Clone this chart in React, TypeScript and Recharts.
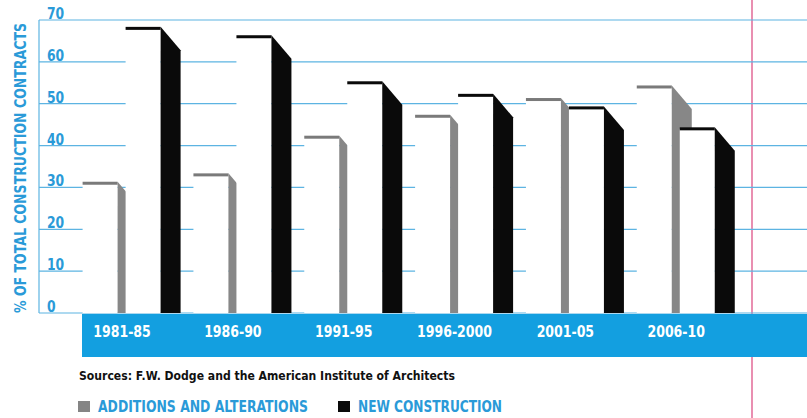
import React from 'react';
import { Bar, BarChart, CartesianGrid, XAxis, YAxis } from 'recharts';

const periods = ['1981-85', '1986-90', '1991-95', '1996-2000', '2001-05', '2006-10'];
const additions = [31, 33, 42, 47, 51, 54];
const newConstruction = [68, 66, 55, 52, 49, 44];
const yTicks = [0, 10, 20, 30, 40, 50, 60, 70];

const data = periods.map((period, i) => ({
  period,
  additions: additions[i],
  newConstruction: newConstruction[i],
}));

const BAND = '#139fe0';
const GRID = '#5db4e2';
const TEXT_BLUE = '#2a9ad8';
const FONT = "'DejaVu Sans Condensed', 'Liberation Sans Narrow', 'Roboto', sans-serif";

// white front face, thick top edge, and a bevelled side face
function slab(color: string, edge: string) {
  return (props: any) => {
    const { x, y, width, height } = props;
    const d = 20;
    const dy = 22;
    const right = x + width;
    const bottom = y + height;
    return (
      <g>
        <rect x={x} y={y} width={width} height={height} fill="#fff" />
        <polygon
          points={`${right},${y - 1.5} ${right + d},${y + dy} ${right + d},${bottom} ${right},${bottom}`}
          fill={color}
        />
        <rect x={x} y={y - 1.5} width={width} height={3} fill={edge} />
      </g>
    );
  };
}

const YTick = (props: any) => (
  <text
    transform={`translate(${props.x + 8},${props.y - 1}) scale(0.86,1)`}
    fill={TEXT_BLUE}
    fontSize={16}
    fontWeight="bold"
    fontFamily={FONT}
  >
    {props.payload.value}
  </text>
);

const XTick = (props: any) => (
  <text
    transform={`translate(${props.x},${props.y + 24}) scale(0.87,1)`}
    fill="#fff"
    fontSize={16}
    fontWeight="bold"
    fontFamily={FONT}
    textAnchor="middle"
  >
    {props.payload.value}
  </text>
);

export default function App() {
  return (
    <div style={{ position: 'absolute', left: 0, top: 0, width: 807, height: 418, background: '#fff', overflow: 'hidden' }}>
      <div style={{ position: 'absolute', left: 751, top: 0, width: 1.5, height: 418, background: '#e98fb1' }} />
      <div style={{ position: 'absolute', left: 82, top: 314, width: 725, height: 43, background: BAND }} />
      <div style={{ position: 'absolute', left: 0, top: 0 }}>
        <BarChart
          width={807}
          height={418}
          data={data}
          margin={{ top: 20, right: 0, bottom: 61, left: 39 }}
          barSize={35}
          barGap={8}
        >
          <CartesianGrid vertical={false} stroke={GRID} strokeWidth={1.2} />
          <XAxis
            dataKey="period"
            axisLine={false}
            tickLine={false}
            tickSize={0}
            tickMargin={0}
            height={44}
            padding={{ left: 27.6, right: 75.4 }}
            tick={<XTick />}
            interval={0}
          />
          <YAxis
            domain={[0, 70]}
            ticks={yTicks}
            mirror
            axisLine={{ stroke: GRID, strokeWidth: 1.2 }}
            tickLine={false}
            tickSize={0}
            tickMargin={0}
            tick={<YTick />}
          />
          <Bar dataKey="additions" shape={slab('#878787', '#7a7a7a')} isAnimationActive={false} />
          <Bar dataKey="newConstruction" shape={slab('#0a0a0a', '#0a0a0a')} isAnimationActive={false} />
        </BarChart>
      </div>
      <svg width={807} height={418} style={{ position: 'absolute', left: 0, top: 0, pointerEvents: 'none' }}>
        <text
          transform="translate(26,168) rotate(-90)"
          textAnchor="middle"
          fill={TEXT_BLUE}
          fontSize={15}
          fontWeight="bold"
          fontFamily={FONT}
          textLength={290}
          lengthAdjust="spacingAndGlyphs"
        >
          % OF TOTAL CONSTRUCTION CONTRACTS
        </text>
        <text
          x={79}
          y={380}
          fill="#111"
          fontSize={13}
          fontWeight="bold"
          fontFamily={FONT}
          textLength={376}
          lengthAdjust="spacingAndGlyphs"
        >
          Sources: F.W. Dodge and the American Institute of Architects
        </text>
        <rect x={78} y={401} width={12} height={11} fill="#858585" />
        <text
          x={98}
          y={412}
          fill={TEXT_BLUE}
          fontSize={15}
          fontWeight="bold"
          fontFamily={FONT}
          textLength={210}
          lengthAdjust="spacingAndGlyphs"
        >
          ADDITIONS AND ALTERATIONS
        </text>
        <rect x={338} y={401} width={12} height={11} fill="#0a0a0a" />
        <text
          x={358}
          y={412}
          fill={TEXT_BLUE}
          fontSize={15}
          fontWeight="bold"
          fontFamily={FONT}
          textLength={144}
          lengthAdjust="spacingAndGlyphs"
        >
          NEW CONSTRUCTION
        </text>
      </svg>
    </div>
  );
}
